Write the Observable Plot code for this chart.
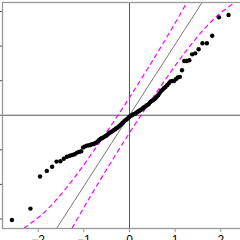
<!DOCTYPE html>
<html>
<head>
<meta charset="utf-8">
<script src="https://cdn.jsdelivr.net/npm/d3@7"></script>
<script src="https://cdn.jsdelivr.net/npm/@observablehq/plot@0.6"></script>
<style>
  html, body { margin: 0; padding: 0; background: #fff; overflow: hidden; }
  #wrap { width: 240px; height: 240px; overflow: hidden; position: relative; }
  #wrap svg { position: absolute; left: 0; top: 0; max-width: none !important; width: 256px; height: 240px; }
</style>
</head>
<body>
<div id="wrap"></div>
<script>
// theoretical normal quantiles (n = 100)
const theoretical = [
  -2.576,-2.170,-1.960,-1.812,-1.695,-1.598,-1.514,-1.440,-1.372,-1.311,
  -1.254,-1.200,-1.150,-1.103,-1.058,-1.015,-0.974,-0.935,-0.897,-0.860,
  -0.824,-0.789,-0.755,-0.723,-0.690,-0.659,-0.628,-0.598,-0.568,-0.539,
  -0.510,-0.482,-0.454,-0.426,-0.399,-0.372,-0.345,-0.319,-0.292,-0.266,
  -0.240,-0.215,-0.189,-0.164,-0.138,-0.113,-0.088,-0.063,-0.038,-0.0125,
   0.0125,0.038,0.063,0.088,0.113,0.138,0.164,0.189,0.215,0.240,
   0.266,0.292,0.319,0.345,0.372,0.399,0.426,0.454,0.482,0.510,
   0.539,0.568,0.598,0.628,0.659,0.690,0.723,0.755,0.789,0.824,
   0.860,0.897,0.935,0.974,1.015,1.058,1.103,1.150,1.200,1.254,
   1.311,1.372,1.440,1.514,1.598,1.695,1.812,1.960,2.170,2.576
];
// sorted sample values
const sample = [
  -3.03,-2.70,-1.77,-1.61,-1.49,-1.34,-1.33,-1.26,-1.20,-1.17,
  -1.15,-1.13,-1.08,-1.06,-1.04,-0.93,-0.90,-0.88,-0.87,-0.86,
  -0.84,-0.83,-0.81,-0.79,-0.75,-0.71,-0.68,-0.66,-0.64,-0.61,
  -0.59,-0.56,-0.53,-0.50,-0.48,-0.46,-0.43,-0.41,-0.38,-0.36,
  -0.33,-0.30,-0.27,-0.24,-0.21,-0.17,-0.14,-0.12,-0.09,-0.06,
  -0.03,-0.01,0.01,0.03,0.04,0.06,0.09,0.11,0.13,0.15,
   0.17,0.20,0.23,0.25,0.28,0.30,0.33,0.38,0.41,0.43,
   0.46,0.49,0.54,0.58,0.64,0.70,0.74,0.78,0.82,0.87,
   0.92,0.98,0.99,0.99,1.04,1.09,1.11,1.30,1.57,1.57,
   1.59,1.76,1.79,1.91,2.08,2.08,2.30,2.83,2.90,3.00
];
// reference line
const refIntercept = 0.0;
const refSlope = 2.05;
// confidence envelope, read at these quantiles
const bandZ     = [-2.576,-2.17,-1.96,-1.6,-1.2,-0.8,-0.4,0,0.4,0.8,1.2,1.6,1.96,2.17,2.576];
const bandUpper = [-3.55,-3.13,-2.92,-2.44,-1.79,-1.06,-0.29,0.51,1.35,2.22,3.13,4.12,5.11,5.77,7.28];
const bandLower = [-7.28,-5.77,-5.11,-4.12,-3.13,-2.22,-1.35,-0.51,0.29,1.06,1.79,2.44,2.92,3.13,3.55];
const xTicks = [-2,-1,0,1,2];
const yTicks = [-3,-2,-1,0,1,2,3];
const xDomain = [-2.782, 2.782];
const yDomain = [-3.275, 3.26];

const points = theoretical.map((z, i) => ({z, y: sample[i]}));
const upper = bandZ.map((z, i) => ({z, y: bandUpper[i]}));
const lower = bandZ.map((z, i) => ({z, y: bandLower[i]}));
const ref = bandZ.map(z => ({z, y: refIntercept + refSlope * z}));

const chart = Plot.plot({
  width: 256, height: 240,
  marginLeft: 2, marginRight: 0, marginTop: 2, marginBottom: 12,
  style: {fontFamily: "'Liberation Sans', Arial, sans-serif", fontSize: "12px", background: "white", maxWidth: "none"},
  x: {domain: xDomain, ticks: xTicks, label: null},
  y: {domain: yDomain, ticks: yTicks, label: null},
  marks: [
    Plot.ruleX([0], {stroke: "#444", strokeWidth: 0.9}),
    Plot.ruleY([0], {stroke: "#444", strokeWidth: 0.9}),
    Plot.line(ref, {x: "z", y: "y", stroke: "#777", strokeWidth: 1, clip: true}),
    Plot.line(upper, {x: "z", y: "y", stroke: "#ff00ff", strokeWidth: 1.2, strokeDasharray: "4,4", curve: "monotone-x", clip: true}),
    Plot.line(lower, {x: "z", y: "y", stroke: "#ff00ff", strokeWidth: 1.2, strokeDasharray: "4,4", curve: "monotone-x", clip: true}),
    Plot.dot(points, {x: "z", y: "y", r: 2.2, fill: "black", stroke: "none", clip: true}),
    Plot.frame({stroke: "#999", strokeWidth: 1.3}),
    Plot.axisX(xTicks, {tickSize: 4, tickPadding: 3, stroke: "#999", fill: "black", fontSize: 12, label: null}),
    Plot.axisY(yTicks, {tickSize: 3, tickFormat: () => "", stroke: "#555", label: null})
  ]
});
document.getElementById("wrap").appendChild(chart);
</script>
</body>
</html>
